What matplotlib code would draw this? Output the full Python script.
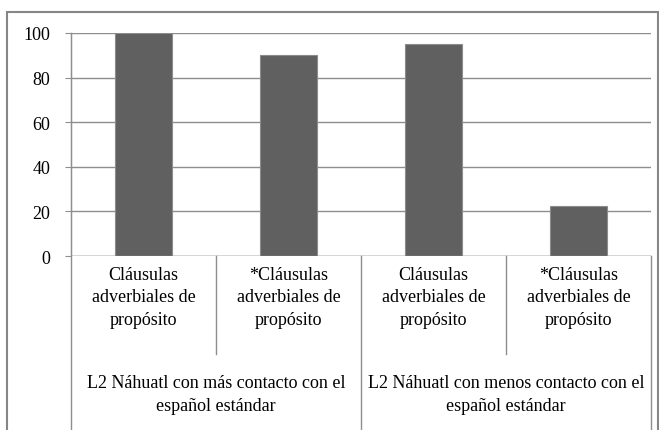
import matplotlib.pyplot as plt
from matplotlib.patches import Rectangle

# Data
categories = ['Cláusulas\nadverbiales de\npropósito',
              '*Cláusulas\nadverbiales de\npropósito',
              'Cláusulas\nadverbiales de\npropósito',
              '*Cláusulas\nadverbiales de\npropósito']
groups = ['L2 Náhuatl con más contacto con el\nespañol estándar',
          'L2 Náhuatl con menos contacto con el\nespañol estándar']
values = [100, 90.3, 95, 22.6]
yticks = [0, 20, 40, 60, 80, 100]

W, H = 659, 431
serif = 'Liberation Serif'
plt.rcParams['font.family'] = [serif, 'DejaVu Serif']

fig = plt.figure(figsize=(W / 100, H / 100), dpi=100)

# plot area in pixels
left, right, top, bottom = 71, 651, 34, 257
ax = fig.add_axes([left / W, (H - bottom) / H, (right - left) / W, (bottom - top) / H])

grid_c = '#8e8e8e'
x = range(len(values))
ax.bar(x, values, width=0.39, color='#606060', edgecolor='#8c8c8c', linewidth=0.8, zorder=3)
ax.set_xlim(-0.5, len(values) - 0.5)
ax.set_ylim(0, 100)
ax.set_yticks(yticks)
ax.set_yticklabels([str(t) for t in yticks], family=serif, fontsize=13)
ax.yaxis.grid(True, color=grid_c, linewidth=1)
ax.set_axisbelow(True)
for s in ['top', 'right', 'bottom']:
    ax.spines[s].set_visible(False)
ax.spines['left'].set_color(grid_c)
ax.tick_params(axis='y', length=4, color=grid_c, pad=11)
ax.tick_params(axis='x', length=0, labelbottom=False)

ax.axhline(0, color=grid_c, linewidth=1, zorder=4)

# multi-level category table below the axis
tr = ax.get_xaxis_transform()
px = 1 / (bottom - top)  # one pixel in axes fraction
y_bot = -(H - bottom + 5) * px
y_sub = -(355 - bottom) * px
ax.plot([-0.5, -0.5], [1, y_bot], color=grid_c, lw=1, transform=tr, clip_on=False)
for xv, yv in [(0.5, y_sub), (2.5, y_sub), (1.5, y_bot), (3.5, y_bot)]:
    ax.plot([xv, xv], [0, yv], color=grid_c, lw=1, transform=tr, clip_on=False)

for i, lab in enumerate(categories):
    ax.text(i, -(298 - bottom) * px, lab, transform=tr, ha='center', va='center',
            family=serif, fontsize=13, linespacing=1.4)
for j, g in enumerate(groups):
    ax.text(2 * j + 0.5, -(395 - bottom) * px, g, transform=tr, ha='center', va='center',
            family=serif, fontsize=13, linespacing=1.4)

# outer chart border
fig.patches.append(Rectangle((7 / W, -0.05), (658 - 7) / W, (H - 13) / H + 0.05,
                             transform=fig.transFigure, fill=False,
                             edgecolor='#868686', linewidth=1.5))

fig.savefig('out.png', dpi=100)
